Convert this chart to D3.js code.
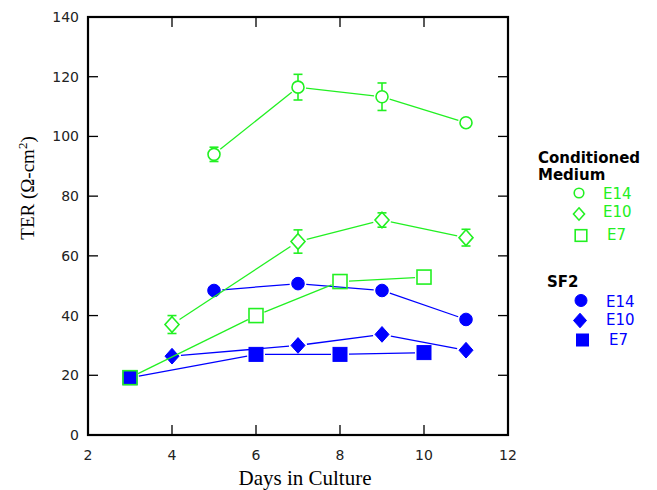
<!DOCTYPE html>
<html>
<head>
<meta charset="utf-8">
<script src="https://cdn.jsdelivr.net/npm/d3@7"></script>
<style>
  body { margin: 0; background: #fff; }
  svg { display: block; }
</style>
</head>
<body>
<div id="graf"></div>
<script>
// days sampled for each embryo age
const daysE14 = [5, 7, 9, 11];
const daysE10 = [4, 7, 9, 11];
const daysE7 = [3, 6, 8, 10];

// Conditioned Medium (open symbols)
const cmE14 = [94, 116.5, 113.3, 104.6];
const cmE14Err = [2.4, 4.3, 4.6, 0];
const cmE10 = [37, 64.8, 72, 66.1];
const cmE10Err = [3, 3.9, 2.4, 2.8];
const cmE7 = [19.2, 40, 51.4, 52.9];

// SF2 (filled symbols)
const sfE14 = [48.4, 50.7, 48.4, 38.7];
const sfE10 = [26.4, 30, 33.7, 28.4];
const sfE7 = [19.2, 27, 27, 27.6];

const xTicks = [2, 4, 6, 8, 10, 12];
const yTicks = [0, 20, 40, 60, 80, 100, 120, 140];

const GREEN = "#22f022";
const BLUE = "#0000ff";

const width = 657, height = 490;

let x = d3.scaleLinear().domain([2, 12]).range([88, 508]);
let y = d3.scaleLinear().domain([0, 140]).range([435, 17]);

let svg = d3.select("#graf").append("svg")
            .attr("width", width)
            .attr("height", height);

// frame
svg.append("rect")
    .attr("x", x(2)).attr("y", y(140))
    .attr("width", x(12) - x(2)).attr("height", y(0) - y(140))
    .attr("fill", "none").attr("stroke", "#000").attr("stroke-width", 2.2);

const tickLen = 10;
const innerX = xTicks.slice(1, -1), innerY = yTicks.slice(1, -1);
const tk = svg.append("g").attr("stroke", "#000").attr("stroke-width", 1.3);
innerX.forEach(t => {
    tk.append("line").attr("x1", x(t)).attr("x2", x(t)).attr("y1", y(0)).attr("y2", y(0) - tickLen);
    tk.append("line").attr("x1", x(t)).attr("x2", x(t)).attr("y1", y(140)).attr("y2", y(140) + tickLen);
});
innerY.forEach(t => {
    tk.append("line").attr("y1", y(t)).attr("y2", y(t)).attr("x1", x(2)).attr("x2", x(2) + tickLen);
    tk.append("line").attr("y1", y(t)).attr("y2", y(t)).attr("x1", x(12)).attr("x2", x(12) - tickLen);
});

// tick labels
svg.append("g").selectAll("text").data(yTicks).join("text")
    .attr("x", 79).attr("y", d => y(d) + 5)
    .attr("text-anchor", "end")
    .style("font", "14px 'DejaVu Sans'").attr("fill", "#222")
    .text(d => d);
svg.append("g").selectAll("text").data(xTicks).join("text")
    .attr("x", d => x(d)).attr("y", 460)
    .attr("text-anchor", "middle")
    .style("font", "14px 'DejaVu Sans'").attr("fill", "#222")
    .text(d => d);

// axis titles
svg.append("text")
    .attr("x", 305).attr("y", 485)
    .attr("text-anchor", "middle")
    .style("font", "21px 'Liberation Serif'")
    .text("Days in Culture");

const yl = svg.append("text")
    .attr("transform", "translate(34,188) rotate(-90)")
    .attr("text-anchor", "middle")
    .style("font", "19px 'Liberation Serif'");
yl.append("tspan").text("TER (\u03A9-cm");
yl.append("tspan").attr("dy", -7).style("font-size", "13px").text("2");
yl.append("tspan").attr("dy", 7).text(")");

// marker drawing
function marker(g, shape, filled, cx, cy, s, color) {
    let el;
    if (shape === "circle") {
        el = g.append("circle").attr("cx", cx).attr("cy", cy).attr("r", s);
    } else if (shape === "square") {
        el = g.append("rect").attr("x", cx - s).attr("y", cy - s).attr("width", 2 * s).attr("height", 2 * s);
    } else {
        const h = s * 1.12;
        el = g.append("path").attr("d", `M${cx},${cy - h}L${cx + s},${cy}L${cx},${cy + h}L${cx - s},${cy}Z`);
    }
    el.attr("fill", filled ? color : "none")
      .attr("stroke", color)
      .attr("stroke-width", filled ? 1 : 1.6);
}

function series(days, vals, errs, shape, filled, color, size) {
    const g = svg.append("g");
    const pts = days.map((d, i) => [x(d), y(vals[i])]);
    const gap = size + 2;
    // segments stop short of the markers
    for (let i = 0; i < pts.length - 1; i++) {
        const [x0, y0] = pts[i], [x1, y1] = pts[i + 1];
        const len = Math.hypot(x1 - x0, y1 - y0);
        const ux = (x1 - x0) / len, uy = (y1 - y0) / len;
        g.append("line")
            .attr("x1", x0 + ux * gap).attr("y1", y0 + uy * gap)
            .attr("x2", x1 - ux * gap).attr("y2", y1 - uy * gap)
            .attr("stroke", color).attr("stroke-width", 1.3);
    }
    if (errs) {
        days.forEach((d, i) => {
            const e = errs[i];
            if (!e) return;
            const cx = x(d), top = y(vals[i] + e), bot = y(vals[i] - e);
            const cy = y(vals[i]);
            const eg = g.append("g").attr("stroke", color).attr("stroke-width", 1.6);
            if (cy - size > top) eg.append("line").attr("x1", cx).attr("x2", cx).attr("y1", top).attr("y2", cy - size);
            if (cy + size < bot) eg.append("line").attr("x1", cx).attr("x2", cx).attr("y1", bot).attr("y2", cy + size);
            eg.append("line").attr("x1", cx - 4.5).attr("x2", cx + 4.5).attr("y1", top).attr("y2", top);
            eg.append("line").attr("x1", cx - 4.5).attr("x2", cx + 4.5).attr("y1", bot).attr("y2", bot);
        });
    }
    pts.forEach(p => marker(g, shape, filled, p[0], p[1], size, color));
}

series(daysE14, sfE14, null, "circle", true, BLUE, 6.3);
series(daysE10, sfE10, null, "diamond", true, BLUE, 7);
series(daysE7, sfE7, null, "square", true, BLUE, 7);
series(daysE14, cmE14, cmE14Err, "circle", false, GREEN, 6);
series(daysE10, cmE10, cmE10Err, "diamond", false, GREEN, 7);
series(daysE7, cmE7, null, "square", false, GREEN, 7);

// legend
const lg = svg.append("g");
lg.append("text").attr("x", 538).attr("y", 163)
    .style("font", "bold 15px 'DejaVu Sans'").text("Conditioned");
lg.append("text").attr("x", 538).attr("y", 180)
    .style("font", "bold 15px 'DejaVu Sans'").text("Medium");
lg.append("text").attr("x", 547).attr("y", 287)
    .style("font", "bold 15px 'DejaVu Sans'").text("SF2");

const legendItems = [
    {shape: "circle", filled: false, color: GREEN, mx: 579, my: 193, s: 4.8, tx: 603, ty: 198.5, label: "E14"},
    {shape: "diamond", filled: false, color: GREEN, mx: 579, my: 214, s: 5.5, tx: 603, ty: 217, label: "E10"},
    {shape: "square", filled: false, color: GREEN, mx: 581, my: 235.5, s: 5.8, tx: 607, ty: 239.5, label: "E7"},
    {shape: "circle", filled: true, color: BLUE, mx: 581, my: 300.5, s: 6, tx: 606, ty: 306.5, label: "E14"},
    {shape: "diamond", filled: true, color: BLUE, mx: 580, my: 320.5, s: 6.5, tx: 606, ty: 324.5, label: "E10"},
    {shape: "square", filled: true, color: BLUE, mx: 582.5, my: 340, s: 6, tx: 609, ty: 345, label: "E7"}
];
legendItems.forEach(d => {
    marker(lg, d.shape, d.filled, d.mx, d.my, d.s, d.color);
    lg.append("text").attr("x", d.tx).attr("y", d.ty)
        .style("font", "15px 'DejaVu Sans'").attr("fill", d.color)
        .text(d.label);
});
</script>
</body>
</html>
